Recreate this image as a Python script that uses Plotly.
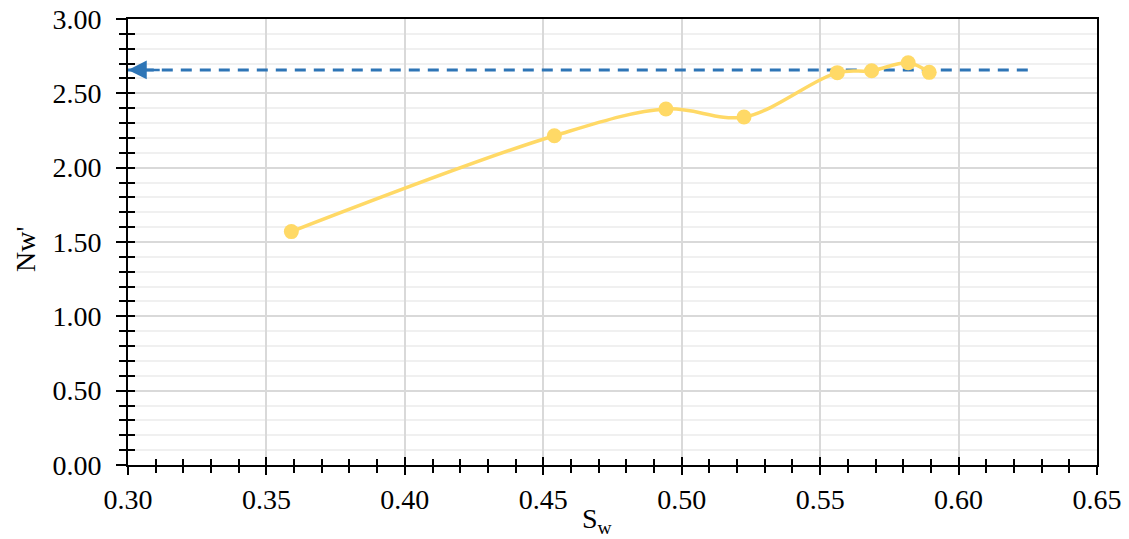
import plotly.graph_objects as go

sw = [0.359, 0.454, 0.4943, 0.5225, 0.5562, 0.5686, 0.5818, 0.5894]
nw = [1.57, 2.215, 2.395, 2.341, 2.639, 2.652, 2.706, 2.641]
ref_x = [0.625, 0.30]
ref_y = [2.657, 2.657]

FONT = "Liberation Serif"
YELLOW = "#FFD966"
BLUE = "#2E75B6"

fig = go.Figure()
fig.add_trace(go.Scatter(x=ref_x, y=ref_y, mode="lines",
                         line=dict(color=BLUE, width=3, dash="11px,8px"),
                         hoverinfo="skip", showlegend=False))
fig.add_trace(go.Scatter(x=sw, y=nw, mode="lines+markers",
                         line=dict(color=YELLOW, width=3.5, shape="spline", smoothing=1),
                         marker=dict(color=YELLOW, size=15),
                         showlegend=False))
# dummy trace for overlay axes (inward tick halves)
fig.add_trace(go.Scatter(x=[0.3], y=[0], xaxis="x2", yaxis="y2", mode="markers",
                         marker=dict(opacity=0), showlegend=False, hoverinfo="skip"))

axis_font = dict(family=FONT, size=28, color="black")

fig.update_layout(
    width=1129, height=539,
    margin=dict(l=128, r=32, t=19, b=74, autoexpand=False),
    paper_bgcolor="white", plot_bgcolor="white",
    font=dict(family=FONT, color="black"),
    xaxis=dict(range=[0.30, 0.65], dtick=0.05, tick0=0.30, tickformat=".2f",
               automargin=False,
               showline=True, linecolor="black", linewidth=2, mirror=True,
               ticks="outside", ticklen=8, tickwidth=2, tickcolor="black",
               tickfont=axis_font, showgrid=True, gridcolor="#D9D9D9", gridwidth=1.5,
               zeroline=False,
               minor=dict(dtick=0.01, ticks="outside", ticklen=6, tickwidth=1.5,
                          tickcolor="black", showgrid=False)),
    yaxis=dict(range=[0, 3.0], dtick=0.5, tick0=0, tickformat=".2f",
               automargin=False,
               showline=True, linecolor="black", linewidth=2, mirror=True,
               ticks="outside", ticklen=10, tickwidth=2, tickcolor="black",
               tickfont=axis_font, showgrid=True, gridcolor="#D9D9D9", gridwidth=1.5,
               zeroline=False, ticklabelstandoff=9,
               minor=dict(dtick=0.1, ticks="outside", ticklen=7, tickwidth=1.5,
                          tickcolor="black", showgrid=True, gridcolor="#F0F0F0",
                          gridwidth=1.5)),
    xaxis2=dict(range=[0.30, 0.65], overlaying="x", side="bottom", anchor="y2",
                automargin=False,
                dtick=0.05, tick0=0.30, ticks="inside", ticklen=8, tickwidth=2,
                tickcolor="black", showticklabels=False, showgrid=False,
                showline=False, zeroline=False,
                minor=dict(dtick=0.01, ticks="inside", ticklen=6, tickwidth=1.5,
                           tickcolor="black", showgrid=False)),
    yaxis2=dict(range=[0, 3.0], overlaying="y", side="left", anchor="x2",
                automargin=False,
                dtick=0.5, tick0=0, ticks="inside", ticklen=7, tickwidth=2,
                tickcolor="black", showticklabels=False, showgrid=False,
                showline=False, zeroline=False,
                minor=dict(dtick=0.1, ticks="inside", ticklen=7, tickwidth=1.5,
                           tickcolor="black", showgrid=False)),
    annotations=[
        dict(x=ref_x[-1], y=ref_y[-1], xref="x", yref="y",
             ax=ref_x[-1] + 0.012, ay=ref_y[-1], axref="x", ayref="y",
             text="", showarrow=True, arrowhead=2, arrowsize=1.5, arrowwidth=2.5,
             arrowcolor=BLUE, standoff=0),
        dict(text="S<sub>w</sub>", xref="paper", yref="paper", x=0.485, y=-0.08,
             xanchor="center", yanchor="top", showarrow=False,
             font=dict(family=FONT, size=28, color="black")),
        dict(text="Nw'", xref="paper", yref="paper", x=-0.106, y=0.485,
             xanchor="center", yanchor="middle", textangle=-90, showarrow=False,
             font=dict(family=FONT, size=28, color="black")),
    ],
)

fig.write_html("out.html", config={"displayModeBar": False},
               post_script="document.body.style.margin='0';")
